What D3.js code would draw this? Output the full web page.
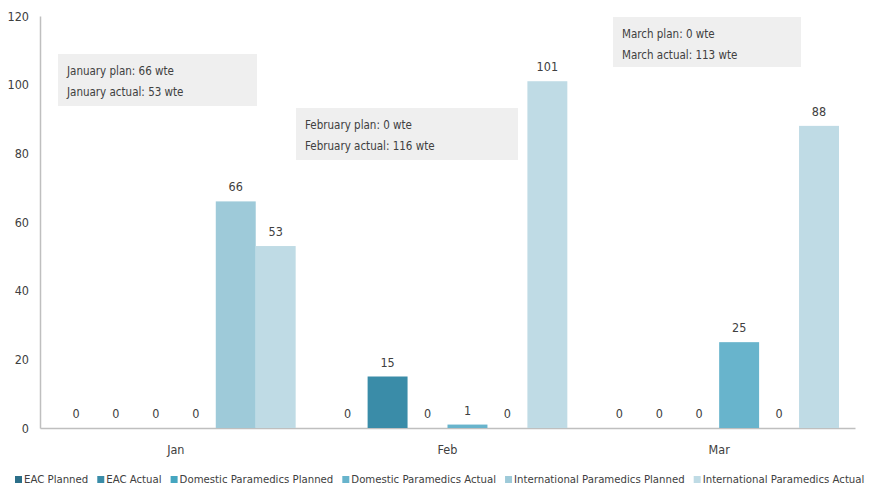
<!DOCTYPE html>
<html>
<head>
<meta charset="utf-8">
<script src="https://cdn.jsdelivr.net/npm/d3@7"></script>
<style>
  body { margin: 0; background: #fff; }
  svg { display: block; }
  text { font-family: "DejaVu Sans Condensed", "Liberation Sans Narrow", sans-serif; fill: #404040; }
</style>
</head>
<body>
<svg id="chart" width="869" height="486"></svg>
<script>
// Recruitment by month (whole-time equivalents)
const months = ["Jan", "Feb", "Mar"];
const seriesNames = [
  "EAC Planned",
  "EAC Actual",
  "Domestic Paramedics Planned",
  "Domestic Paramedics Actual",
  "International Paramedics Planned",
  "International Paramedics Actual"
];
const eacPlanned = [0, 0, 0];
const eacActual = [0, 15, 0];
const domesticPlanned = [0, 0, 0];
const domesticActual = [0, 1, 25];
const internationalPlanned = [66, 0, 0];
const internationalActual = [53, 101, 88];
const yTicks = [0, 20, 40, 60, 80, 100, 120];
const noteLines = [
  ["January plan: 66 wte", "January actual: 53 wte"],
  ["February plan: 0 wte", "February actual: 116 wte"],
  ["March plan: 0 wte", "March actual: 113 wte"]
];

const seriesValues = [eacPlanned, eacActual, domesticPlanned, domesticActual, internationalPlanned, internationalActual];
const colors = ["#2c6f89", "#3a8ca8", "#45a6c0", "#68b4cc", "#9ecad9", "#bfdbe5"];

const svg = d3.select("#chart");
const plotLeft = 40, plotRight = 855, plotTop = 16, plotBottom = 428;

const x0 = d3.scaleBand().domain(months).range([plotLeft, plotRight]).paddingInner(0).paddingOuter(0);
const groupPad = 16;
const x1 = d3.scaleBand().domain(seriesNames)
  .range([groupPad, x0.bandwidth() - groupPad]).padding(0);
const y = d3.scaleLinear().domain([0, 120]).range([plotBottom, plotTop]);

// Annotation boxes (drawn under the bars)
const noteBoxes = [
  { x: 58, y: 54, w: 199, h: 52 },
  { x: 296, y: 108, w: 222, h: 52 },
  { x: 613, y: 17, w: 188, h: 50 }
];
const notes = svg.append("g").selectAll("g").data(noteLines).join("g")
  .attr("transform", (d, i) => `translate(${noteBoxes[i].x},${noteBoxes[i].y})`);
notes.append("rect")
  .attr("width", (d, i) => noteBoxes[i].w)
  .attr("height", (d, i) => noteBoxes[i].h)
  .attr("fill", "#efefef");
notes.selectAll("text").data(d => d).join("text")
  .attr("x", 9)
  .attr("y", (d, j) => 21 + j * 21)
  .attr("font-size", 11.5)
  .text(d => d);

// Axes
const yAxis = d3.axisLeft(y).tickValues(yTicks).tickSize(0).tickPadding(11);
const gy = svg.append("g").attr("transform", `translate(${plotLeft},0)`).call(yAxis);
gy.attr("font-family", null);
gy.select(".domain").attr("stroke", "#bfbfbf").attr("stroke-width", 1.5);
gy.selectAll("text").attr("font-size", 12.5).attr("fill", "#404040");

const xAxis = d3.axisBottom(x0).tickSize(0).tickPadding(17);
const gx = svg.append("g").attr("transform", `translate(0,${plotBottom})`).call(xAxis);
gx.attr("font-family", null);
gx.select(".domain").attr("stroke", "#bfbfbf").attr("stroke-width", 1.5);
gx.selectAll("text").attr("font-size", 12.5).attr("fill", "#404040");

// Bars
const rows = months.map((m, i) => ({
  month: m,
  values: seriesNames.map((s, k) => ({ series: s, k, value: seriesValues[k][i] }))
}));
const groups = svg.append("g").selectAll("g").data(rows).join("g")
  .attr("transform", d => `translate(${x0(d.month)},0)`);
groups.selectAll("rect").data(d => d.values).join("rect")
  .attr("x", d => x1(d.series))
  .attr("y", d => y(d.value))
  .attr("width", x1.bandwidth())
  .attr("height", d => plotBottom - y(d.value))
  .attr("fill", d => colors[d.k]);
groups.selectAll("text.val").data(d => d.values).join("text")
  .attr("class", "val")
  .attr("x", d => x1(d.series) + x1.bandwidth() / 2)
  .attr("y", d => y(d.value) - 10)
  .attr("text-anchor", "middle")
  .attr("font-size", 12.5)
  .text(d => d.value);

// Legend laid out left to right
const legend = svg.append("g").attr("transform", "translate(15,483)");
let lx = 0;
seriesNames.forEach((name, k) => {
  const item = legend.append("g").attr("transform", `translate(${lx},0)`);
  item.append("rect").attr("x", 0).attr("y", -7).attr("width", 7).attr("height", 7).attr("fill", colors[k]);
  const t = item.append("text").attr("x", 9).attr("y", 0).attr("font-size", 11.3).text(name);
  lx += 9 + t.node().getComputedTextLength() + 9;
});
</script>
</body>
</html>
